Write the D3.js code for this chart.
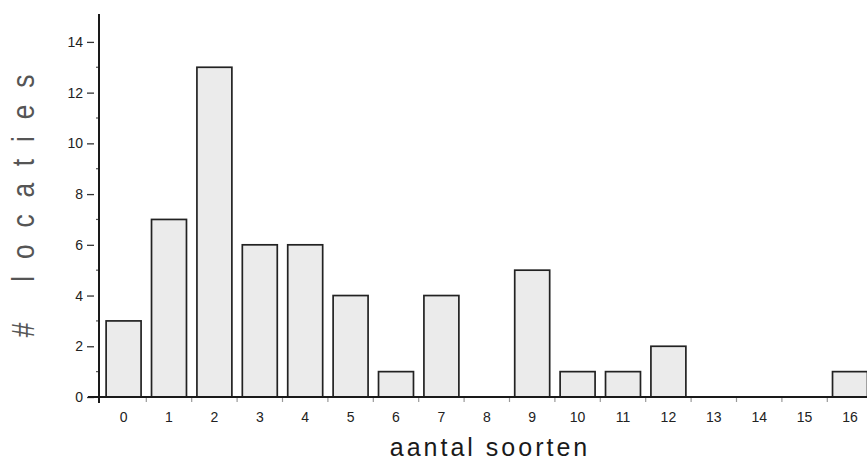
<!DOCTYPE html>
<html>
<head>
<meta charset="utf-8">
<script src="https://cdn.jsdelivr.net/npm/d3@7"></script>
<style>
  html, body { margin: 0; padding: 0; background: #fff; }
  svg { display: block; }
  text { font-family: "Liberation Sans", Arial, sans-serif; }
</style>
</head>
<body>
<svg id="chart" width="867" height="469"></svg>
<script>
// Number of species per location (aantal soorten) and how many locations have it
const categories = ["0","1","2","3","4","5","6","7","8","9","10","11","12","13","14","15","16"];
const counts     = [3, 7, 13, 6, 6, 4, 1, 4, 0, 5, 1, 1, 2, 0, 0, 0, 1];
const yTicks     = [0, 2, 4, 6, 8, 10, 12, 14];
const yMinorTicks = [1, 3, 5, 7, 9, 11, 13];
const xTitle = "aantal soorten";
const yTitle = "# locaties";

const svg = d3.select("#chart");

const x0 = 100.9, step = 45.4;
const x = d3.scaleBand()
  .domain(categories)
  .range([x0, x0 + step * categories.length])
  .paddingInner(0.23)
  .paddingOuter(0.115);

const y = d3.scaleLinear().domain([0, 15.1]).range([397, 14]);
const axisX = 99;

// bars
svg.append("g")
  .selectAll("rect")
  .data(categories.map((c, i) => ({ c, v: counts[i] })).filter(d => d.v > 0))
  .join("rect")
  .attr("x", d => x(d.c))
  .attr("y", d => y(d.v))
  .attr("width", x.bandwidth())
  .attr("height", d => y(0) - y(d.v))
  .attr("fill", "#ebebeb")
  .attr("stroke", "#222")
  .attr("stroke-width", 1.7);

// y axis
const yAxis = svg.append("g")
  .attr("transform", `translate(${axisX},0)`)
  .call(d3.axisLeft(y).tickValues(yTicks).tickSize(12).tickPadding(4).tickFormat(d3.format("d")));
yAxis.select(".domain").remove();
yAxis.selectAll(".tick line")
  .attr("x1", -12).attr("x2", -5)
  .attr("stroke", "#333").attr("stroke-width", 1.3);
yAxis.selectAll(".tick text")
  .attr("x", -16)
  .attr("font-size", 14)
  .attr("fill", "#222");
yAxis.selectAll(".minor")
  .data(yMinorTicks)
  .join("line")
  .attr("class", "minor")
  .attr("x1", -3).attr("x2", 0)
  .attr("y1", d => y(d)).attr("y2", d => y(d))
  .attr("stroke", "#555").attr("stroke-width", 1.2);
yAxis.append("line")
  .attr("x1", 0).attr("x2", 0)
  .attr("y1", y.range()[1]).attr("y2", y(0) + 6)
  .attr("stroke", "#1a1a1a").attr("stroke-width", 2);

// x axis
const xAxis = svg.append("g")
  .attr("transform", `translate(0,${y(0)})`)
  .call(d3.axisBottom(x).tickSize(0).tickPadding(15));
xAxis.select(".domain").remove();
xAxis.selectAll(".tick text")
  .attr("font-size", 14)
  .attr("fill", "#222");
xAxis.append("line")
  .attr("x1", 88).attr("x2", 867)
  .attr("y1", 0).attr("y2", 0)
  .attr("stroke", "#1a1a1a").attr("stroke-width", 2.2);
// small marks at the category boundaries
xAxis.selectAll(".bnd")
  .data(categories.slice(1))
  .join("line")
  .attr("class", "bnd")
  .attr("x1", d => x(d) - x.step() * x.paddingInner() / 2)
  .attr("x2", d => x(d) - x.step() * x.paddingInner() / 2)
  .attr("y1", 1).attr("y2", 5)
  .attr("stroke", "#999").attr("stroke-width", 1.2);

// axis titles
svg.append("text")
  .attr("x", 490).attr("y", 456)
  .attr("text-anchor", "middle")
  .attr("font-size", 25)
  .attr("letter-spacing", 3)
  .attr("fill", "#1a1a1a")
  .text(xTitle);

svg.append("text")
  .attr("transform", "translate(34,206) rotate(-90) scale(0.85,1)")
  .attr("text-anchor", "middle")
  .attr("font-size", 31)
  .attr("textLength", 309)
  .attr("lengthAdjust", "spacing")
  .attr("fill", "#555")
  .text(yTitle);
</script>
</body>
</html>
